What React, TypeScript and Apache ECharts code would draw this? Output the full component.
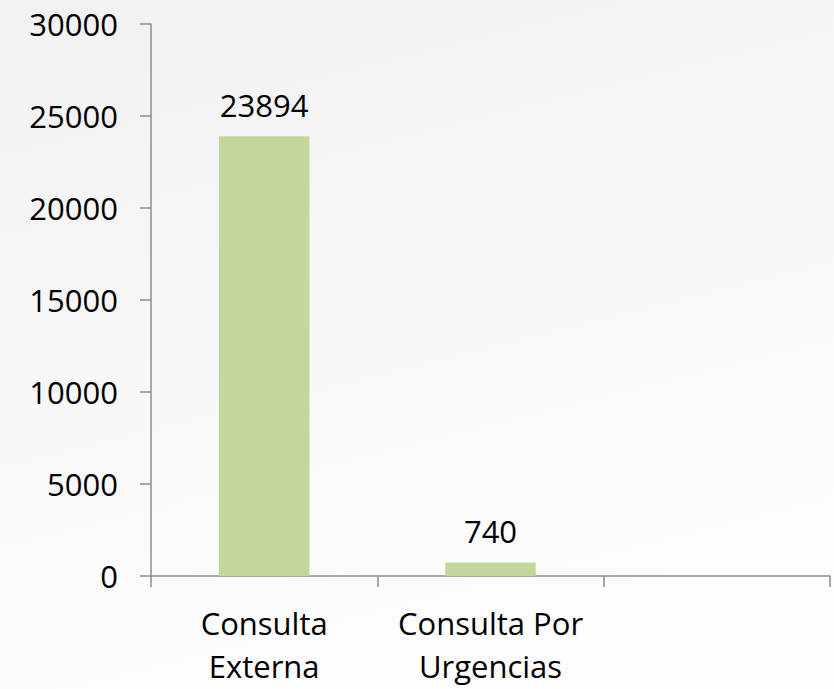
import React, { useEffect, useRef } from "react";
import * as echarts from "echarts";

const categories = ["Consulta\nExterna", "Consulta Por\nUrgencias", ""];
const values: (number | null)[] = [23894, 740, null];
const yMin = 0;
const yMax = 30000;
const yInterval = 5000;

export default function App() {
  const ref = useRef<HTMLDivElement>(null);
  useEffect(() => {
    if (!ref.current) return;
    const chart = echarts.init(ref.current, undefined, { renderer: "svg" });
    const font = "'Open Sans', sans-serif";
    chart.setOption({
      animation: false,
      backgroundColor: {
        type: "linear",
        x: 0,
        y: 0,
        x2: 0.3,
        y2: 1,
        colorStops: [
          { offset: 0, color: "#f1f1f1" },
          { offset: 1, color: "#fdfdfd" },
        ],
      },
      grid: { left: 151, right: 4, top: 24, bottom: 113 },
      xAxis: {
        type: "category",
        data: categories,
        axisLine: { lineStyle: { color: "#8c8c8c", width: 1.5 } },
        axisTick: { show: true, length: 11, lineStyle: { color: "#8c8c8c", width: 1.5 } },
        axisLabel: {
          color: "#000",
          fontFamily: font,
          fontSize: 31,
          lineHeight: 43,
          margin: 25,
          interval: 0,
        },
      },
      yAxis: {
        type: "value",
        min: yMin,
        max: yMax,
        interval: yInterval,
        splitLine: { show: false },
        axisLine: { show: true, lineStyle: { color: "#8c8c8c", width: 1.5 } },
        axisTick: { show: true, length: 11, lineStyle: { color: "#8c8c8c", width: 1.5 } },
        axisLabel: {
          color: "#000",
          fontFamily: font,
          fontSize: 31,
          margin: 33,
          formatter: (v: number) => String(v),
        },
      },
      series: [
        {
          type: "bar",
          data: values,
          barWidth: "40%",
          itemStyle: { color: "#c3d69b" },
          label: {
            show: true,
            position: "top",
            distance: 16,
            color: "#000",
            fontFamily: font,
            fontSize: 31,
          },
        },
      ],
    });
    return () => chart.dispose();
  }, []);
  return (
    <div
      ref={ref}
      style={{ position: "fixed", left: 0, top: 0, width: 834, height: 689 }}
    />
  );
}
